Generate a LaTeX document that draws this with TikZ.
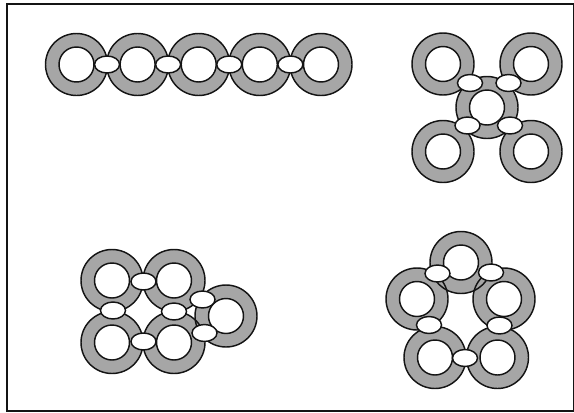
\documentclass[tikz,border=0pt]{standalone}
\usetikzlibrary{calc,shapes.geometric}
\definecolor{band}{HTML}{A6A6A6}
\definecolor{edge}{HTML}{141414}

\begin{document}
\begin{tikzpicture}[
  x=1pt, y=-1pt,
  bandfill/.style={fill=band, even odd rule},
  bandline/.style={draw=edge, line width=1.45pt},
  joint/.style={ellipse, draw=edge, fill=white, line width=1.45pt,
                minimum width=25pt, minimum height=17pt, inner sep=0pt}
]
\useasboundingbox (0,0) rectangle (574,413);
\draw[edge, line width=1.4pt] (7,4) rectangle (573.6,411);

% ring centres: chain, cross, grid, pentagon
\foreach \i/\x in {1/76.5,2/137.6,3/198.7,4/259.8,5/321}
  \coordinate (a\i) at (\x,64.5);
\coordinate (b0) at (487,107.5);
\coordinate (b1) at (443,64);
\coordinate (b2) at (531,64);
\coordinate (b3) at (443,151.5);
\coordinate (b4) at (531,151.5);
\coordinate (g1) at (112,280.5);
\coordinate (g2) at (174,280.5);
\coordinate (g3) at (112,342.5);
\coordinate (g4) at (174,342.5);
\coordinate (g5) at (226,316);
\coordinate (p1) at (461,262.5);
\coordinate (p2) at (417,299);
\coordinate (p3) at (504,299);
\coordinate (p4) at (435,357.5);
\coordinate (p5) at (497.5,357.5);

% gray bands first, outlines over them
\foreach \c in {a1,a2,a3,a4,a5,b0,b1,b2,b3,b4,g1,g2,g3,g4,g5,p1,p2,p3,p4,p5}
  \fill[bandfill] (\c) circle[radius=31pt] (\c) circle[radius=17.5pt];
\foreach \c in {a1,a2,a3,a4,a5,b0,b1,b2,b3,b4,g1,g2,g3,g4,g5,p1,p2,p3,p4,p5}
  \draw[bandline] (\c) circle[radius=31pt] (\c) circle[radius=17.5pt];

% joints
\foreach \i/\j in {1/2,2/3,3/4,4/5}
  \node[joint] (ja\i) at ($(a\i)!0.5!(a\j)$) {};
\node[joint] (jb1) at (470,83) {};
\node[joint] (jb2) at (508.5,83) {};
\node[joint] (jb3) at (467.5,125.5) {};
\node[joint] (jb4) at (510,125.5) {};
\node[joint] (jg1) at (143.5,281.5) {};
\node[joint] (jg2) at (113,310.5) {};
\node[joint] (jg3) at (174,311.5) {};
\node[joint] (jg4) at (143.5,341.5) {};
\node[joint] (jg5) at (202.5,299.5) {};
\node[joint] (jg6) at (204.5,333) {};
\node[joint] (jp1) at (437.5,273.5) {};
\node[joint] (jp2) at (491,272.5) {};
\node[joint] (jp3) at (429,325) {};
\node[joint] (jp4) at (499.5,325.5) {};
\node[joint] (jp5) at (465,358) {};
\end{tikzpicture}
\end{document}
